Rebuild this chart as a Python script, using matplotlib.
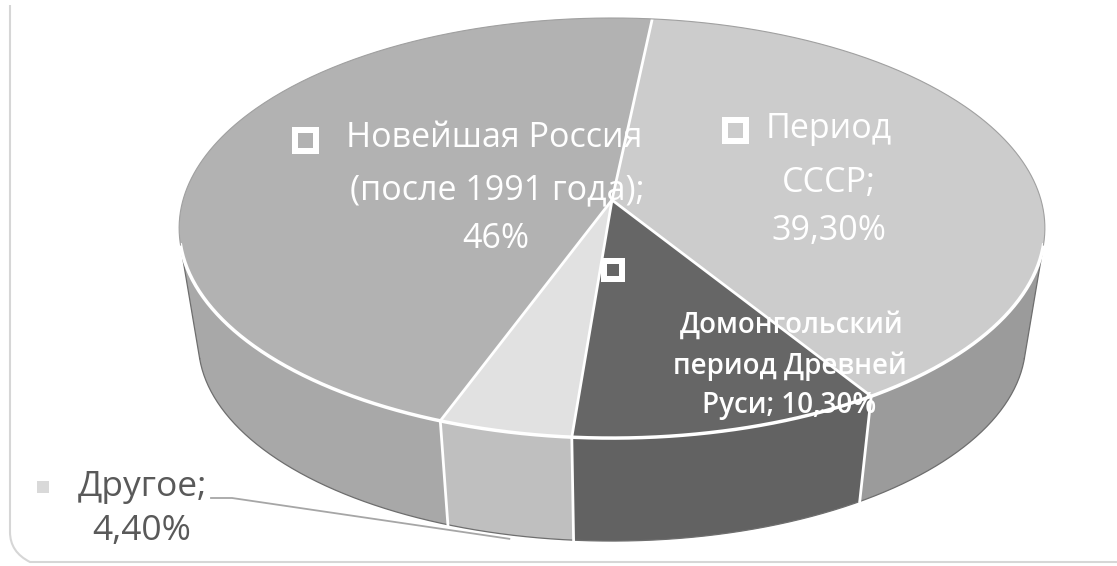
import numpy as np
import matplotlib
matplotlib.use('Agg')
import matplotlib.pyplot as plt
from matplotlib.patches import Polygon, Rectangle, PathPatch
from matplotlib.path import Path

# data
labels = ['Период СССР', 'Домонгольский период Древней Руси', 'Другое',
          'Новейшая Россия (после 1991 года)']
values = [39.3, 10.3, 4.4, 46.0]
pct_text = ['39,30%', '10,30%', '4,40%', '46%']
top_colors = ['#cccccc', '#666666', '#e1e1e1', '#b2b2b2']
side_colors = ['#9b9b9b', '#626262', '#bfbfbf', '#a8a8a8']

FONT = ['Open Sans', 'DejaVu Sans']

# perspective projection of the pie (pixel coordinates)
K = 0.1335
CX, CY = 612, 200


def top_pt(phi):
    x, y = np.cos(phi), np.sin(phi)
    w = 1 + K * y
    return CX + 429 * x / w, CY - 206.3 * y / w


def bot_pt(phi):
    x, y = np.cos(phi), np.sin(phi)
    w = 1 + K * y
    return CX + 410 * x / w, 316 - 195 * y / w


def tangent(side):
    # outer tangent between top and bottom ellipse, left (-1) or right (+1)
    if side < 0:
        ph = np.linspace(-np.pi - 0.6, -np.pi / 2, 1500)
        pick = np.argmin
    else:
        ph = np.linspace(-np.pi / 2, 0.6, 1500)
        pick = np.argmax
    tx, ty = top_pt(ph)
    bx, by = bot_pt(ph)
    it = np.argmin(np.abs(ph - (-np.pi if side < 0 else 0.0)))
    ib = it
    for _ in range(10):
        ib = pick(np.arctan2(bx - tx[it], by - ty[it]))
        it = pick(np.arctan2(tx - bx[ib], by[ib] - ty))
    return ph[it], ph[ib]


tL, bL = tangent(-1)
tR, bR = tangent(1)

fig = plt.figure(figsize=(11.17, 5.66), dpi=100)
ax = fig.add_axes([0, 0, 1, 1])
ax.set_xlim(0, 1117)
ax.set_ylim(566, 0)
ax.axis('off')

# chart frame (rounded corner at bottom left)
verts = [(10, 5), (10, 532), (10, 552), (30, 562), (1117, 562)]
codes = [Path.MOVETO, Path.LINETO, Path.CURVE3, Path.CURVE3, Path.LINETO]
ax.add_patch(PathPatch(Path(verts, codes), fill=False, ec='#d6d6d6', lw=1.5))

start = np.deg2rad(83.9)
fr = np.array(values) / sum(values) * 2 * np.pi
ends = start - np.cumsum(fr)
starts = ends + fr

# side walls (front part only)
for a0, a1, sc in zip(starts, ends, side_colors):
    if a0 < -np.pi:
        a0, a1 = a0 + 2 * np.pi, a1 + 2 * np.pi
    t_hi, t_lo = min(a0, tR), max(a1, tL)
    b_hi, b_lo = min(a0, bR), max(a1, bL)
    if t_lo >= t_hi:
        continue
    tx, ty = top_pt(np.linspace(t_hi, t_lo, 80))
    bx, by = bot_pt(np.linspace(b_lo, b_hi, 80))
    ax.add_patch(Polygon(np.column_stack([np.r_[tx, bx], np.r_[ty, by]]),
                         closed=True, fc=sc, ec='none', zorder=2))

# dark outline of the walls
bx, by = bot_pt(np.linspace(bL, bR, 200))
ax.plot(bx, by, color='#6e6e6e', lw=0.9, zorder=3)
for pt, pb in ((tL, bL), (tR, bR)):
    x0, y0 = top_pt(pt)
    x1, y1 = bot_pt(pb)
    ax.plot([x0, x1], [y0, y1], color='#6e6e6e', lw=0.9, zorder=3)

# white separators on the wall
for e in ends[:3]:
    x0, y0 = top_pt(e)
    x1, y1 = bot_pt(e)
    ax.plot([x0, x1], [y0, y1], color='white', lw=2, zorder=4)

# top face
for a0, a1, tc in zip(starts, ends, top_colors):
    tx, ty = top_pt(np.linspace(a0, a1, 150))
    ax.add_patch(Polygon(np.column_stack([np.r_[CX, tx], np.r_[CY, ty]]),
                         closed=True, fc=tc, ec='none', zorder=5))
for e in np.r_[start, ends[:3]]:
    x0, y0 = top_pt(e)
    ax.plot([CX, x0], [CY, y0], color='white', lw=2, zorder=6)
tx, ty = top_pt(np.linspace(tL, tR, 200))
ax.plot(tx, ty, color='white', lw=2.5, zorder=6)
tx, ty = top_pt(np.linspace(tR, tL + 2 * np.pi, 300))
ax.plot(tx, ty, color='#a0a0a0', lw=0.8, zorder=6)


def key(x, y, s, inner, color):
    ax.add_patch(Rectangle((x - s / 2, y - s / 2), s, s, fc='white', ec='none', zorder=7))
    ax.add_patch(Rectangle((x - inner / 2, y - inner / 2), inner, inner,
                           fc=color, ec='none', zorder=8))


# labels
tkw = dict(color='white', ha='center', va='center', family=FONT, zorder=9)
key(305, 140, 27, 15, top_colors[3])
ax.text(494, 138, 'Новейшая Россия', fontsize=24.5, **tkw)
ax.text(497, 190, '(после 1991 года);', fontsize=24.5, **tkw)
ax.text(496, 239, pct_text[3], fontsize=24.5, **tkw)

key(735, 130, 27, 15, top_colors[0])
ax.text(829, 129, 'Период', fontsize=24.5, **tkw)
ax.text(829, 183, 'СССР;', fontsize=24.5, **tkw)
ax.text(829, 231, pct_text[0], fontsize=24.5, **tkw)

key(613, 270, 24, 12, top_colors[1])
dkw = dict(fontsize=20, fontweight='semibold', **tkw)
ax.text(792, 325, 'Домонгольский', **dkw)
ax.text(790, 366, 'период Древней', **dkw)
ax.text(789, 406, 'Руси; ' + pct_text[1], **dkw)

# "Другое" label with leader line
ax.add_patch(Rectangle((37, 481), 12, 12, fc='#d9d9d9', ec='none', zorder=7))
ax.text(78, 487, 'Другое;', color='#595959', fontsize=25.5, ha='left', va='center',
        family=FONT, zorder=9)
ax.text(142, 531, pct_text[2], color='#595959', fontsize=25.5, ha='center', va='center',
        family=FONT, zorder=9)
lx, ly = bot_pt(ends[2] + fr[2] * 0.5)
ax.plot([211, 232, lx], [498, 498, ly + 4], color='#a6a6a6', lw=1.3, zorder=1)

fig.savefig('out.png', dpi=100)
